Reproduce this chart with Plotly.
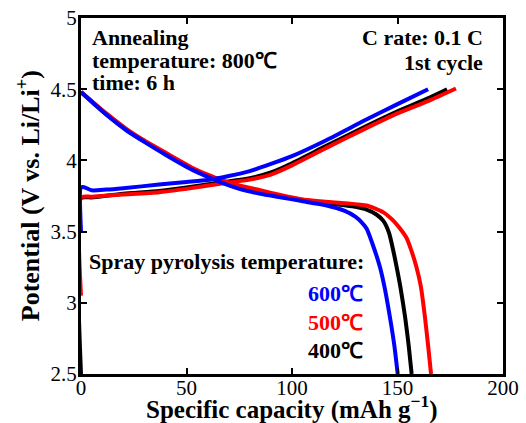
import plotly.graph_objects as go

# ---- data ----
# Charge curves (1st cycle)
chg_600_x = [0, 0, 1.5, 5, 12, 20, 37, 50, 60, 70, 80, 90, 100, 116, 135, 150, 164.5]
chg_600_y = [3.50, 3.81, 3.812, 3.79, 3.795, 3.805, 3.83, 3.848, 3.862, 3.89, 3.925, 3.975, 4.03, 4.14, 4.285, 4.395, 4.50]
chg_500_x = [0, 0, 5, 20, 37, 50, 66, 80, 90, 100, 116, 135, 150, 165, 177.7]
chg_500_y = [3.05, 3.74, 3.745, 3.76, 3.777, 3.80, 3.836, 3.865, 3.90, 3.965, 4.085, 4.225, 4.33, 4.42, 4.505]
chg_400_x = [0, 0, 5, 20, 37, 50, 66, 80, 90, 100, 116, 135, 150, 165, 173.5]
chg_400_y = [2.5, 3.735, 3.74, 3.765, 3.785, 3.81, 3.845, 3.875, 3.915, 3.98, 4.10, 4.24, 4.345, 4.44, 4.50]

# Discharge curves (1st cycle)
dis_600_x = [0, 6, 12, 21.6, 30, 40, 53.2, 60, 66, 75, 85, 95, 104, 116, 125, 130, 133, 135.4, 138, 141.7, 144, 146.4, 148.5, 150.1]
dis_600_y = [4.48, 4.40, 4.32, 4.21, 4.13, 4.04, 3.93, 3.885, 3.847, 3.80, 3.765, 3.74, 3.716, 3.685, 3.645, 3.605, 3.565, 3.52, 3.42, 3.25, 3.10, 2.90, 2.70, 2.50]
dis_500_x = [0, 6, 12, 21.6, 30, 40, 53.2, 60, 66, 75, 85, 95, 104, 116, 125, 135.4, 143.3, 148, 151, 154.3, 156.5, 159, 161, 163, 164.5, 165.9]
dis_500_y = [4.48, 4.405, 4.33, 4.22, 4.14, 4.055, 3.945, 3.90, 3.865, 3.825, 3.79, 3.755, 3.728, 3.71, 3.70, 3.683, 3.635, 3.577, 3.525, 3.455, 3.37, 3.25, 3.12, 2.90, 2.70, 2.50]
dis_400_x = [0, 6, 12, 21.6, 30, 40, 53.2, 60, 66, 75, 85, 95, 104, 116, 125, 130, 135.4, 140, 143.3, 146, 147.8, 149.6, 151.5, 153.6, 155.3, 156.7]
dis_400_y = [4.48, 4.40, 4.325, 4.215, 4.135, 4.05, 3.94, 3.895, 3.86, 3.815, 3.78, 3.75, 3.725, 3.70, 3.685, 3.675, 3.655, 3.62, 3.575, 3.49, 3.38, 3.25, 3.10, 2.90, 2.70, 2.50]

x_ticks = [0, 50, 100, 150, 200]
y_ticks = [2.5, 3, 3.5, 4, 4.5, 5]
y_tick_text = ["2.5", "3", "3.5", "4", "4.5", "5"]

series = [
    ("400℃", "#000000", chg_400_x, chg_400_y, dis_400_x, dis_400_y),
    ("500℃", "#ff0000", chg_500_x, chg_500_y, dis_500_x, dis_500_y),
    ("600℃", "#0000ff", chg_600_x, chg_600_y, dis_600_x, dis_600_y),
]

FONT = "Liberation Serif"

fig = go.Figure()
for name, color, cx, cy, dx, dy in series:
    fig.add_trace(go.Scatter(x=dx, y=dy, mode="lines", name=name + " discharge",
                             line=dict(color=color, width=4, shape="spline", smoothing=0.6),
                             showlegend=False))
    fig.add_trace(go.Scatter(x=cx, y=cy, mode="lines", name=name + " charge",
                             line=dict(color=color, width=4, shape="spline", smoothing=0.6),
                             showlegend=False))

axis_common = dict(
    showgrid=False, zeroline=False,
    showline=True, linecolor="black", linewidth=3, mirror="allticks",
    ticks="inside", ticklen=6, tickwidth=2, tickcolor="black",
    tickfont=dict(family=FONT, size=21, color="black"),
)

fig.update_xaxes(range=[0, 200], tickvals=x_ticks, ticklabelstandoff=-7, **axis_common)
fig.update_yaxes(range=[2.5, 5], tickvals=y_ticks, ticktext=y_tick_text,
                 ticklabelstandoff=-3, **axis_common)

def bold(size, color="black"):
    return dict(family=FONT, size=size, color=color, weight="bold")

annotations = [
    dict(text="Annealing", x=0.022, y=0.946, xanchor="left", font=bold(22)),
    dict(text="temperature: 800℃", x=0.022, y=0.882, xanchor="left", font=bold(22)),
    dict(text="time: 6 h", x=0.022, y=0.820, xanchor="left", font=bold(22)),
    dict(text="C rate: 0.1 C", x=0.957, y=0.946, xanchor="right", font=bold(22)),
    dict(text="1st cycle", x=0.957, y=0.874, xanchor="right", font=bold(22)),
    dict(text="Spray pyrolysis temperature:", x=0.014, y=0.315, xanchor="left", font=bold(22)),
    dict(text="600℃", x=0.673, y=0.225, xanchor="right", font=bold(22, "#0000ff")),
    dict(text="500℃", x=0.673, y=0.146, xanchor="right", font=bold(22, "#ff0000")),
    dict(text="400℃", x=0.673, y=0.067, xanchor="right", font=bold(22, "#000000")),
    # axis titles
    dict(text="Specific capacity (mAh g<sup>−1</sup>)", x=0.5, y=-0.093,
         xanchor="center", font=bold(25)),
    dict(text="Potential (V vs. Li/Li<sup>+</sup>)", x=-0.125, y=0.5, textangle=-90,
         xanchor="center", font=bold(26)),
]
for a in annotations:
    a.update(xref="paper", yref="paper", showarrow=False, yanchor="middle")

fig.update_layout(
    width=526, height=423,
    margin=dict(l=81, r=23, t=18, b=49, autoexpand=False),
    paper_bgcolor="white", plot_bgcolor="white",
    font=dict(family=FONT, color="black"),
    annotations=annotations,
)

fig.write_html("out.html")
